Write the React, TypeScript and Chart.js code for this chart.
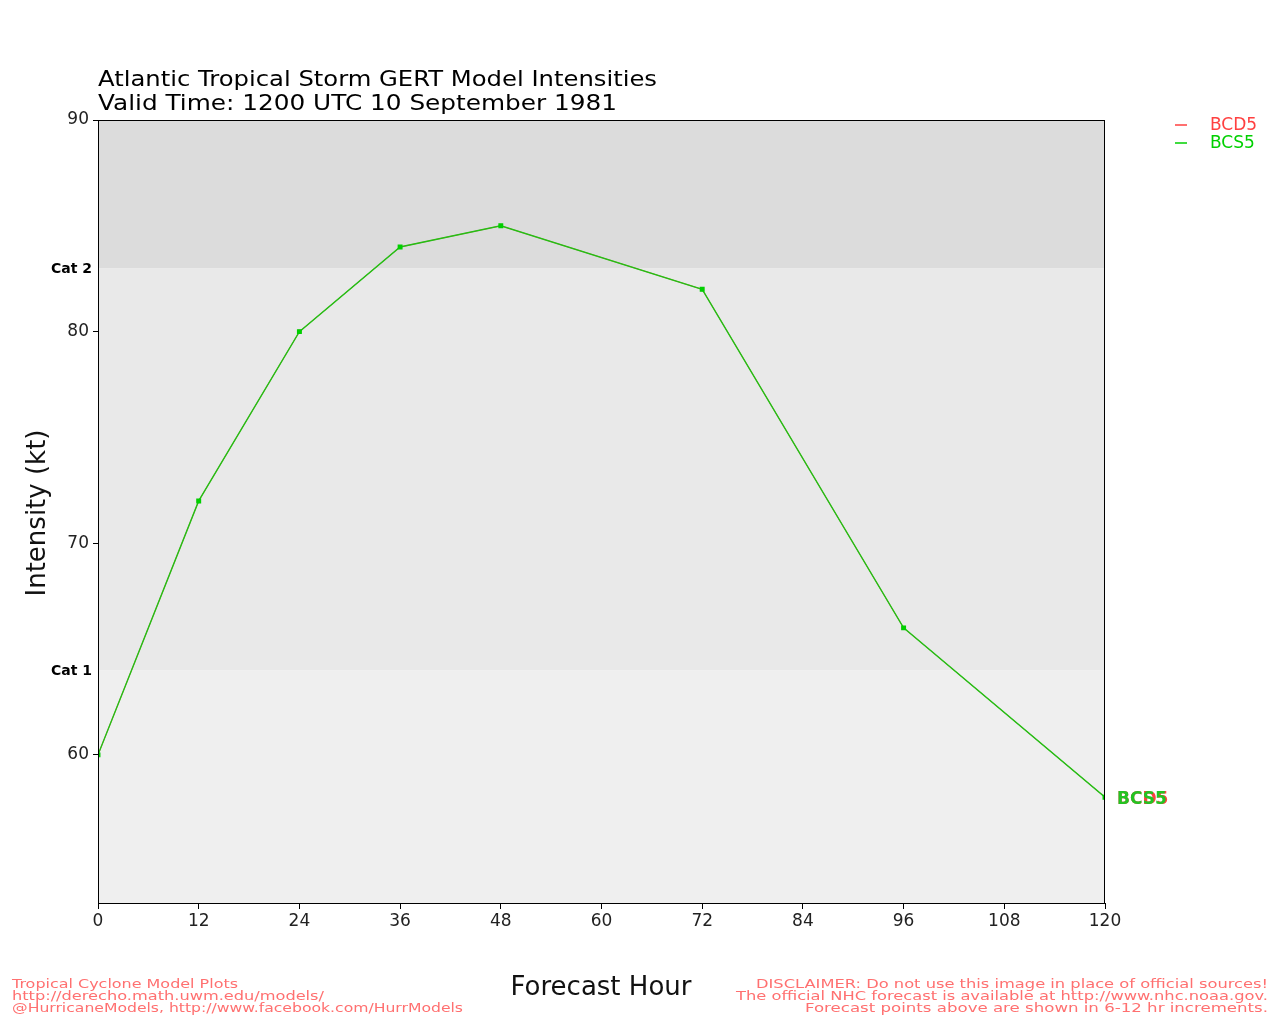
import React, { useEffect, useRef } from "react";
import { Chart, registerables } from "chart.js";
Chart.register(...registerables);

const hours = [0, 12, 24, 36, 48, 72, 96, 120];
const bcd5 = [60, 72, 80, 84, 85, 82, 66, 58];
const bcs5 = [60, 72, 80, 84, 85, 82, 66, 58];
const yTicks = [60, 70, 80, 90];
const xTicks = [0, 12, 24, 36, 48, 60, 72, 84, 96, 108, 120];
const catLevels = [
  { label: "Cat 1", value: 64 },
  { label: "Cat 2", value: 83 },
];
const bands = [
  { from: 53, to: 64, color: "#efefef" },
  { from: 64, to: 83, color: "#e9e9e9" },
  { from: 83, to: 90, color: "#dcdcdc" },
];
const titleLines = [
  "Atlantic Tropical Storm GERT Model Intensities",
  "Valid Time: 1200 UTC 10 September 1981",
];
const footLeft = [
  "Tropical Cyclone Model Plots",
  "http://derecho.math.uwm.edu/models/",
  "@HurricaneModels, http://www.facebook.com/HurrModels",
];
const footRight = [
  "DISCLAIMER: Do not use this image in place of official sources!",
  "The official NHC forecast is available at http://www.nhc.noaa.gov.",
  "Forecast points above are shown in 6-12 hr increments.",
];
const RED = "#ff4040";
const GREEN = "#00d000";
const FONT = "'DejaVu Sans', sans-serif";

function fitText(ctx: CanvasRenderingContext2D, text: string, x: number, y: number, width: number, align: "left" | "right" = "left") {
  const w = ctx.measureText(text).width;
  ctx.save();
  ctx.textAlign = "left";
  ctx.translate(align === "left" ? x : x - width, y);
  ctx.scale(width / w, 1);
  ctx.fillText(text, 0, 0);
  ctx.restore();
}

const decor = {
  id: "decor",
  beforeDatasetsDraw(chart: any) {
    const { ctx, chartArea, scales } = chart;
    const y = scales.y;
    ctx.save();
    bands.forEach((b) => {
      const t = y.getPixelForValue(b.to);
      const bt = y.getPixelForValue(b.from);
      ctx.fillStyle = b.color;
      ctx.fillRect(chartArea.left, t, chartArea.right - chartArea.left, bt - t);
    });
    ctx.restore();
  },
  afterDraw(chart: any) {
    const { ctx, chartArea, scales } = chart;
    const y = scales.y;
    const x = scales.x;
    ctx.save();
    ctx.strokeStyle = "#000";
    ctx.lineWidth = 1;
    ctx.strokeRect(chartArea.left + 0.5, chartArea.top + 0.5, chartArea.right - chartArea.left - 1, chartArea.bottom - chartArea.top);
    // cat labels
    ctx.fillStyle = "#000";
    ctx.font = `bold 14px ${FONT}`;
    ctx.textAlign = "right";
    ctx.textBaseline = "middle";
    catLevels.forEach((c) => ctx.fillText(c.label, 92, y.getPixelForValue(c.value) + 1));
    // titles
    ctx.textBaseline = "alphabetic";
    ctx.font = `22px ${FONT}`;
    ctx.fillStyle = "#000";
    fitText(ctx, titleLines[0], 98, 86, 559);
    fitText(ctx, titleLines[1], 98, 110, 519);
    // axis titles
    ctx.font = `26px ${FONT}`;
    ctx.textAlign = "center";
    ctx.textBaseline = "middle";
    ctx.fillStyle = "#111";
    ctx.fillText("Forecast Hour", 601, 988);
    ctx.save();
    ctx.translate(38, 513);
    ctx.rotate(-Math.PI / 2);
    ctx.fillText("Intensity (kt)", 0, 0);
    ctx.restore();
    // footers
    ctx.font = `13px ${FONT}`;
    ctx.fillStyle = "#ff7070";
    ctx.textBaseline = "alphabetic";
    const lw = [226, 312, 451];
    footLeft.forEach((t, i) => fitText(ctx, t, 12, 988 + i * 12, lw[i], "left"));
    const rw = [512, 532, 463];
    footRight.forEach((t, i) => fitText(ctx, t, 1268, 988 + i * 12, rw[i], "right"));
    // legend
    const legend = [
      { name: "BCD5", color: RED },
      { name: "BCS5", color: GREEN },
    ];
    ctx.font = `17px ${FONT}`;
    ctx.textAlign = "left";
    ctx.textBaseline = "middle";
    legend.forEach((l, i) => {
      const ly = 125 + i * 18;
      ctx.strokeStyle = l.color;
      ctx.lineWidth = 1.5;
      ctx.beginPath();
      ctx.moveTo(1175, ly);
      ctx.lineTo(1187, ly);
      ctx.stroke();
      ctx.fillStyle = l.color;
      ctx.fillText(l.name, 1210, ly + 1);
    });
    // end labels
    ctx.font = `bold 17px ${FONT}`;
    const ex = x.getPixelForValue(hours[hours.length - 1]) + 12;
    ctx.fillStyle = RED;
    ctx.fillText("BCD5", ex, y.getPixelForValue(bcd5[bcd5.length - 1]) + 2);
    ctx.fillStyle = "#22c422";
    ctx.fillText("BCS5", ex, y.getPixelForValue(bcs5[bcs5.length - 1]) + 2);
    ctx.restore();
  },
};

export default function App() {
  const ref = useRef<HTMLCanvasElement>(null);
  useEffect(() => {
    const chart = new Chart(ref.current!, {
      type: "line",
      data: {
        datasets: [
          {
            label: "BCS5",
            data: hours.map((h, i) => ({ x: h, y: bcs5[i] })),
            borderColor: "#22c014",
            backgroundColor: GREEN,
            pointBorderColor: GREEN,
            borderWidth: 1.4,
            pointStyle: "rect",
            pointRadius: 2.5,
            tension: 0,
          },
          {
            label: "BCD5",
            data: hours.map((h, i) => ({ x: h, y: bcd5[i] })),
            borderColor: RED,
            backgroundColor: RED,
            borderWidth: 0.8,
            pointStyle: "rect",
            pointRadius: 2,
            tension: 0,
          },
        ],
      },
      options: {
        animation: false,
        responsive: false,
        maintainAspectRatio: false,
        layout: { padding: { left: 0, top: 120, right: 175, bottom: 0 } },
        plugins: { legend: { display: false }, tooltip: { enabled: false }, title: { display: false } },
        scales: {
          x: {
            type: "linear",
            min: 0,
            max: 120,
            afterBuildTicks: (s: any) => {
              s.ticks = xTicks.map((v) => ({ value: v }));
            },
            afterFit: (s: any) => {
              s.height = 121;
            },
            grid: { drawOnChartArea: false, color: "#000", tickLength: 6 },
            border: { display: true, color: "#000" },
            ticks: { color: "#222", font: { family: FONT, size: 17 }, padding: 2, maxRotation: 0, autoSkip: false },
          },
          y: {
            type: "linear",
            min: 53,
            max: 90,
            afterBuildTicks: (s: any) => {
              s.ticks = yTicks.map((v) => ({ value: v }));
            },
            afterFit: (s: any) => {
              s.width = 98;
            },
            grid: { drawOnChartArea: false, color: "#000", tickLength: 5 },
            border: { display: true, color: "#000" },
            ticks: { color: "#222", font: { family: FONT, size: 17 }, padding: 4 },
          },
        },
      },
      plugins: [decor],
    } as any);
    return () => chart.destroy();
  }, []);
  return (
    <div style={{ position: "absolute", left: 0, top: 0, width: 1280, height: 1024, background: "#fff" }}>
      <canvas ref={ref} width={1280} height={1024} style={{ width: 1280, height: 1024 }} />
    </div>
  );
}
